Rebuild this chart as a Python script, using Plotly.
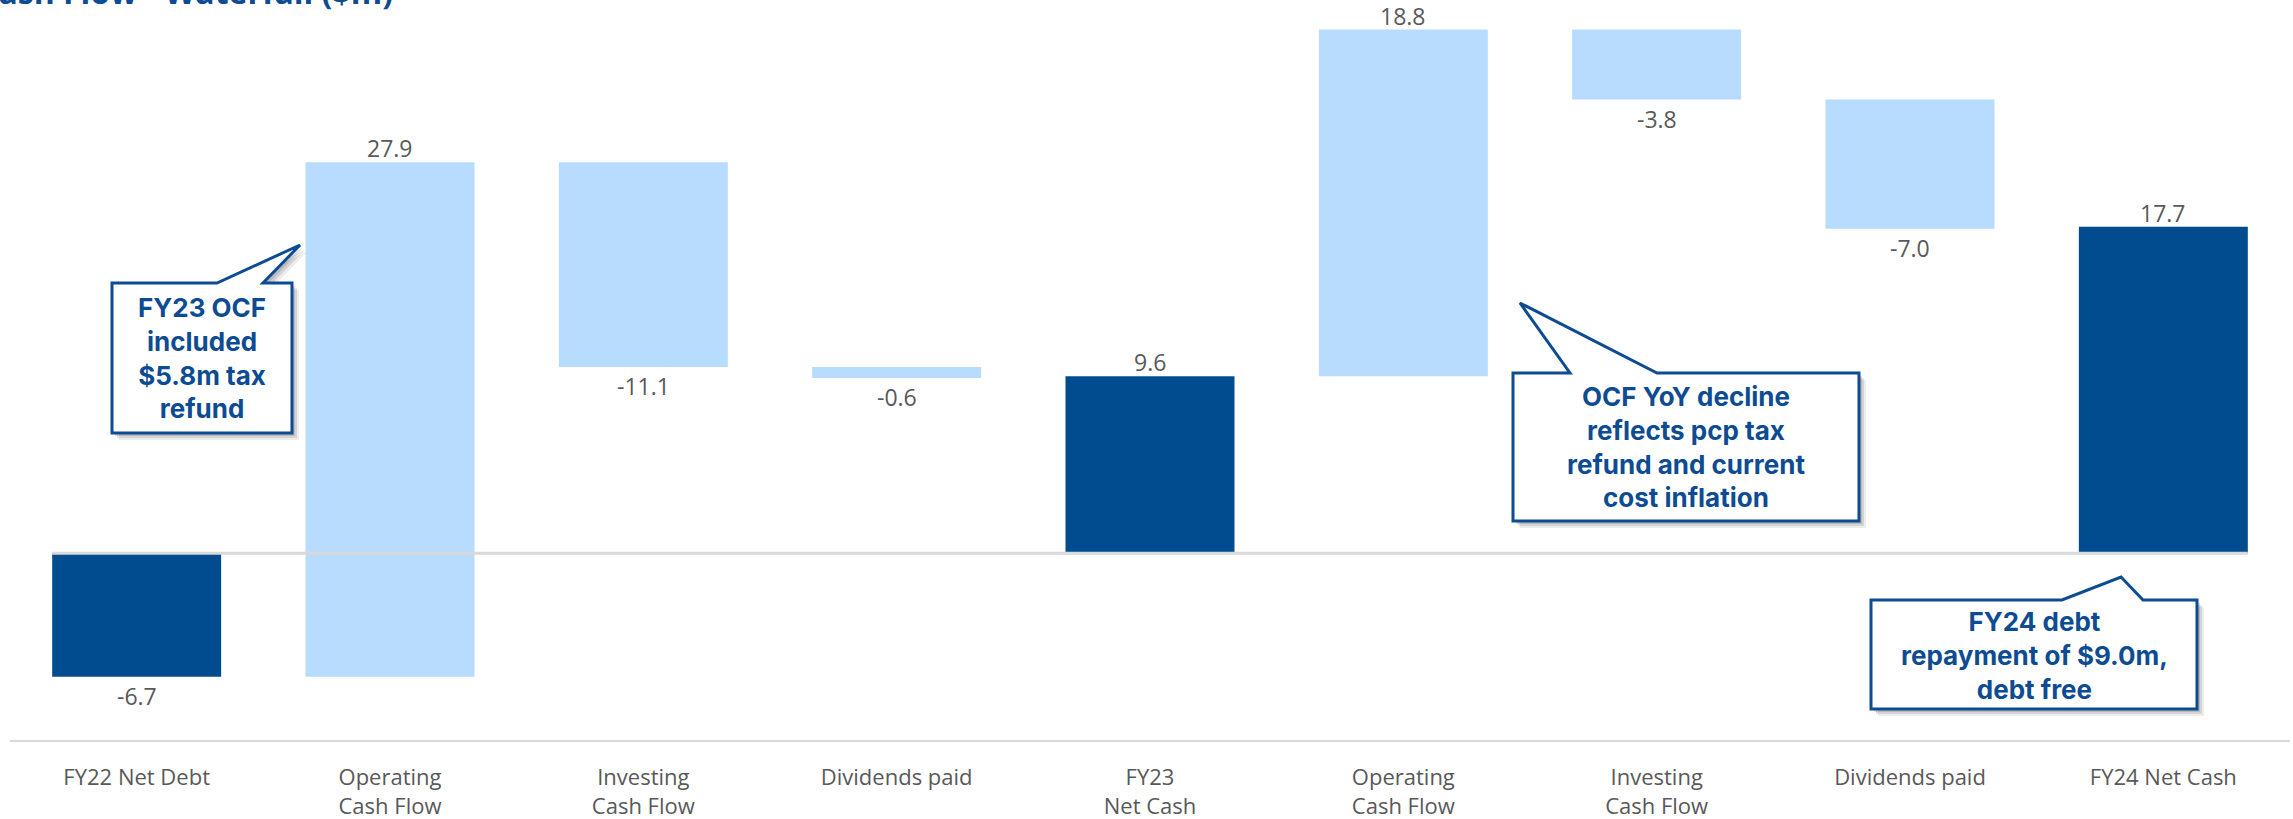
import plotly.graph_objects as go

# ---- data ----
categories = ["FY22 Net Debt", "Operating<br>Cash Flow", "Investing<br>Cash Flow", "Dividends paid",
              "FY23<br>Net Cash", "Operating<br>Cash Flow", "Investing<br>Cash Flow", "Dividends paid",
              "FY24 Net Cash"]
values = [-6.7, 27.9, -11.1, -0.6, 9.6, 18.8, -3.8, -7.0, 17.7]
measures = ["absolute", "relative", "relative", "relative", "absolute",
            "relative", "relative", "relative", "absolute"]
labels = [f"{v:.1f}" for v in values]

title_text = "Cash Flow - Waterfall ($m)"
callout_texts = [
    "FY23 OCF<br>included<br>$5.8m tax<br>refund",
    "OCF YoY decline<br>reflects pcp tax<br>refund and current<br>cost inflation",
    "FY24 debt<br>repayment of $9.0m,<br>debt free",
]

# ---- layout constants ----
W, H = 2293, 819
ML, MR, MT, MB = 10, 3, 0, 79
PW, PH = W - ML - MR, H - MT - MB

DARK = "#004C8F"
LIGHT = "#B7DCFD"
NAVY = "#0D4C92"
GREY_TXT = "#595959"


def px(x):
    return (x - ML) / PW


def py(y):
    return 1 - (y - MT) / PH


def path(points, dx=0, dy=0):
    s = "M " + " L ".join(f"{px(x + dx):.5f},{py(y + dy):.5f}" for x, y in points) + " Z"
    return s


xs = list(range(len(values)))

fig = go.Figure(go.Waterfall(
    x=xs, y=values, measure=measures,
    increasing=dict(marker=dict(color=LIGHT, line=dict(width=0))),
    decreasing=dict(marker=dict(color=LIGHT, line=dict(width=0))),
    totals=dict(marker=dict(color=DARK, line=dict(width=0))),
    connector=dict(visible=False),
    hoverinfo="skip",
))

annotations = []
# value labels at the outer end of each bar (derived from the running total)
running = 0.0
for i, (v, m, lab) in enumerate(zip(values, measures, labels)):
    if m == "absolute":
        start, end = 0.0, v
        running = v
    else:
        start, end = running, running + v
        running = end
    if v >= 0:
        annotations.append(dict(x=i, y=end, xref="x", yref="y", text=lab, showarrow=False,
                                xanchor="center", yanchor="bottom", yshift=-4,
                                font=dict(family="Open Sans", size=23, color=GREY_TXT)))
    else:
        annotations.append(dict(x=i, y=end, xref="x", yref="y", text=lab, showarrow=False,
                                xanchor="center", yanchor="top", yshift=-1,
                                font=dict(family="Open Sans", size=23, color=GREY_TXT)))

shapes = []
# zero line spanning the bars
shapes.append(dict(type="line", xref="x", yref="y", x0=-0.3335, x1=len(values) - 1 + 0.3335,
                   y0=0, y1=0, line=dict(color="#D9D9D9", width=3), layer="above"))

callouts = [
    # polygon points (pixels), text centre
    ([(112, 283), (217, 283), (300, 245), (263, 283), (292, 283), (292, 433), (112, 433)], (202, 358)),
    ([(1513, 373), (1570, 373), (1520, 303), (1657, 373), (1859, 373), (1859, 521), (1513, 521)], (1686, 447)),
    ([(1871, 600), (2062, 600), (2121, 577), (2143, 600), (2197, 600), (2197, 709), (1871, 709)], (2034, 655)),
]

for (pts, (cx, cy)), txt in zip(callouts, callout_texts):
    for off, op in [(7, 0.07), (5, 0.10), (3, 0.12)]:
        shapes.append(dict(type="path", xref="paper", yref="paper", path=path(pts, off, off),
                           fillcolor=f"rgba(0,0,0,{op})", line=dict(width=0), layer="above"))
    shapes.append(dict(type="path", xref="paper", yref="paper", path=path(pts),
                       fillcolor="white", line=dict(color=NAVY, width=3), layer="above"))
    annotations.append(dict(xref="paper", yref="paper", x=px(cx), y=py(cy), text=txt,
                            showarrow=False, xanchor="center", yanchor="middle", align="center",
                            font=dict(family="Inter", size=26, color=NAVY, weight="bold")))

# clipped title at the very top
annotations.append(dict(xref="paper", yref="paper", x=px(395), y=py(15), text=title_text,
                        showarrow=False, xanchor="right", yanchor="bottom",
                        font=dict(family="Open Sans", size=32, color=NAVY, weight="bold")))

fig.update_layout(
    width=W, height=H,
    margin=dict(l=ML, r=MR, t=MT, b=MB),
    paper_bgcolor="white", plot_bgcolor="white",
    showlegend=False,
    waterfallgap=0.333,
    shapes=shapes,
    annotations=annotations,
    xaxis=dict(tickmode="array", tickvals=xs, ticktext=categories,
               range=[-0.5, len(values) - 0.5],
               showline=True, linecolor="#D9D9D9", linewidth=2,
               ticks="outside", ticklen=17, tickcolor="rgba(0,0,0,0)",
               tickfont=dict(family="Open Sans", size=22, color=GREY_TXT),
               showgrid=False, zeroline=False, fixedrange=True),
    yaxis=dict(range=[-10.13, 30], visible=False, showgrid=False, zeroline=False, fixedrange=True),
)

fig.write_html("out.html", config={"displayModeBar": False},
               post_script="document.body.style.margin='0';document.body.style.overflow='hidden';")
